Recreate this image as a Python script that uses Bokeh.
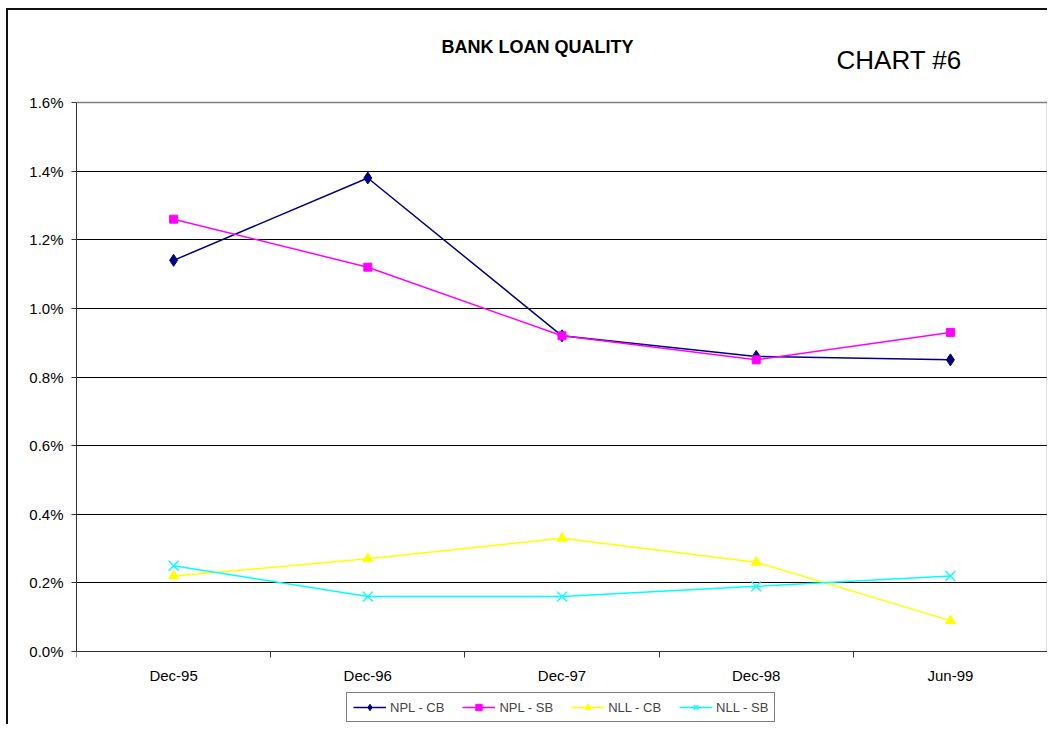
from bokeh.plotting import figure
from bokeh.models import (Range1d, FixedTicker, PrintfTickFormatter, Legend,
                          LegendItem, Title, Grid, LinearAxis)
from bokeh.embed import file_html
from bokeh.resources import INLINE

# ---- data ----
dates = ["Dec-95", "Dec-96", "Dec-97", "Dec-98", "Jun-99"]
npl_cb = [1.14, 1.38, 0.92, 0.86, 0.85]
npl_sb = [1.26, 1.12, 0.92, 0.85, 0.93]
nll_cb = [0.22, 0.27, 0.33, 0.26, 0.09]
nll_sb = [0.25, 0.16, 0.16, 0.19, 0.22]
y_ticks = [0.0, 0.2, 0.4, 0.6, 0.8, 1.0, 1.2, 1.4, 1.6]
series_names = ["NPL - CB", "NPL - SB", "NLL - CB", "NLL - SB"]
title_text = "BANK LOAN QUALITY"
chart_no = "CHART #6"

FONT = "Liberation Sans"

n = len(dates)
xc = [i + 0.5 for i in range(n)]          # category centres on the x scale
xb = [i for i in range(0, n + 1)]         # category boundaries (tick marks)
y_top = y_ticks[-1]

# layout (pixels)
TOP, LEFT, RIGHT, BOTTOM = 90, 68, 2, 1
PLOT_H, PLOT_W = 549, 971         # size of the value area (0..1.6 %, 5 cats)
W, H = LEFT + PLOT_W + RIGHT, 716
PAD_TOP = 2                       # frame starts a little above 1.6 %
FRAME_H = H - TOP - BOTTOM        # frame also holds x labels and legend
ppu = PLOT_H / y_top
y_start = -(FRAME_H - PLOT_H - PAD_TOP) / ppu
y_end = y_top + PAD_TOP / ppu

p = figure(width=W, height=H,
           x_range=Range1d(0, n), y_range=Range1d(y_start, y_end),
           output_backend="svg", toolbar_location=None,
           min_border_left=LEFT, min_border_top=TOP,
           min_border_right=RIGHT, min_border_bottom=BOTTOM,
           background_fill_color="white", border_fill_color="white")
p.styles = {"margin-left": "6px", "margin-top": "8px",
            "border-top": "2px solid #111", "border-left": "2px solid #111"}
p.outline_line_color = None

# x axis drawn at 0 %
p.xaxis.fixed_location = 0
p.xaxis.bounds = (0, n)
p.xaxis.ticker = FixedTicker(ticks=xc, minor_ticks=xb)
p.xaxis.major_label_overrides = {c: d for c, d in zip(xc, dates)}
p.xaxis.major_tick_line_color = None
p.xaxis.major_tick_out = 0
p.xaxis.major_tick_in = 0
p.xaxis.minor_tick_line_color = "#333333"
p.xaxis.minor_tick_out = 6
p.xaxis.minor_tick_in = 0
p.xaxis.axis_line_color = "#333333"
p.xaxis.major_label_text_font = FONT
p.xaxis.major_label_text_font_size = "15px"
p.xaxis.major_label_text_color = "black"
p.xaxis.major_label_standoff = 9

# y axis
p.yaxis.bounds = (0, y_top)
p.yaxis.ticker = FixedTicker(ticks=y_ticks)
p.yaxis.formatter = PrintfTickFormatter(format="%.1f%%")
p.yaxis.major_tick_out = 5
p.yaxis.major_tick_in = 0
p.yaxis.minor_tick_line_color = None
p.yaxis.major_tick_line_color = "#333333"
p.yaxis.axis_line_color = "#333333"
p.yaxis.major_label_text_font = FONT
p.yaxis.major_label_text_font_size = "15px"
p.yaxis.major_label_text_color = "black"
p.yaxis.major_label_standoff = 8

# grey right border of the value area
p.add_layout(LinearAxis(bounds=(0, y_top), ticker=FixedTicker(ticks=[]),
                        axis_line_color="#808080", axis_line_width=1.5,
                        major_tick_line_color=None, minor_tick_line_color=None,
                        major_label_text_font_size="0px",
                        major_tick_out=0, major_tick_in=0), "right")

# grid
p.xgrid.grid_line_color = None
p.ygrid.ticker = FixedTicker(ticks=y_ticks[:-1])
p.ygrid.grid_line_color = "black"
p.ygrid.grid_line_width = 1
# grey top border
p.add_layout(Grid(dimension=1, ticker=FixedTicker(ticks=[y_top]),
                  grid_line_color="#808080", grid_line_width=1.5))

# series
l1 = p.line(xc, npl_cb, line_color="#000080", line_width=1.5)
m1 = p.scatter(xc, npl_cb, marker="diamond", size=12, color="#000080")
l2 = p.line(xc, npl_sb, line_color="#FF00FF", line_width=1.5)
m2 = p.scatter(xc, npl_sb, marker="square", size=8, color="#FF00FF")
l3 = p.line(xc, nll_cb, line_color="#FFFF00", line_width=1.5)
m3 = p.scatter(xc, nll_cb, marker="triangle", size=10, color="#FFFF00")
l4 = p.line(xc, nll_sb, line_color="#00FFFF", line_width=1.5)
m4 = p.scatter(xc, nll_sb, marker="x", size=14, line_color="#00FFFF", line_width=1.3)

legend = Legend(items=[LegendItem(label=series_names[0], renderers=[l1, m1]),
                       LegendItem(label=series_names[1], renderers=[l2, m2]),
                       LegendItem(label=series_names[2], renderers=[l3, m3]),
                       LegendItem(label=series_names[3], renderers=[l4, m4])],
                orientation="horizontal", location=(270, 3),
                border_line_color="black", border_line_width=1,
                background_fill_color="white", background_fill_alpha=1,
                label_text_font=FONT, label_text_font_size="13px",
                glyph_width=33, glyph_height=16, label_height=16,
                label_standoff=4, spacing=18, padding=6, margin=0)
p.add_layout(legend)

# titles (first added sits nearest the plot frame)
p.add_layout(Title(text=chart_no, text_font=FONT, text_font_size="26px",
                   text_font_style="normal", text_color="black",
                   align="left", offset=760, standoff=51), "above")
p.add_layout(Title(text=title_text, text_font=FONT, text_font_size="18px",
                   text_font_style="bold", text_color="black",
                   align="left", offset=365, standoff=-79), "above")

open("out.html", "w").write(file_html(p, INLINE))
